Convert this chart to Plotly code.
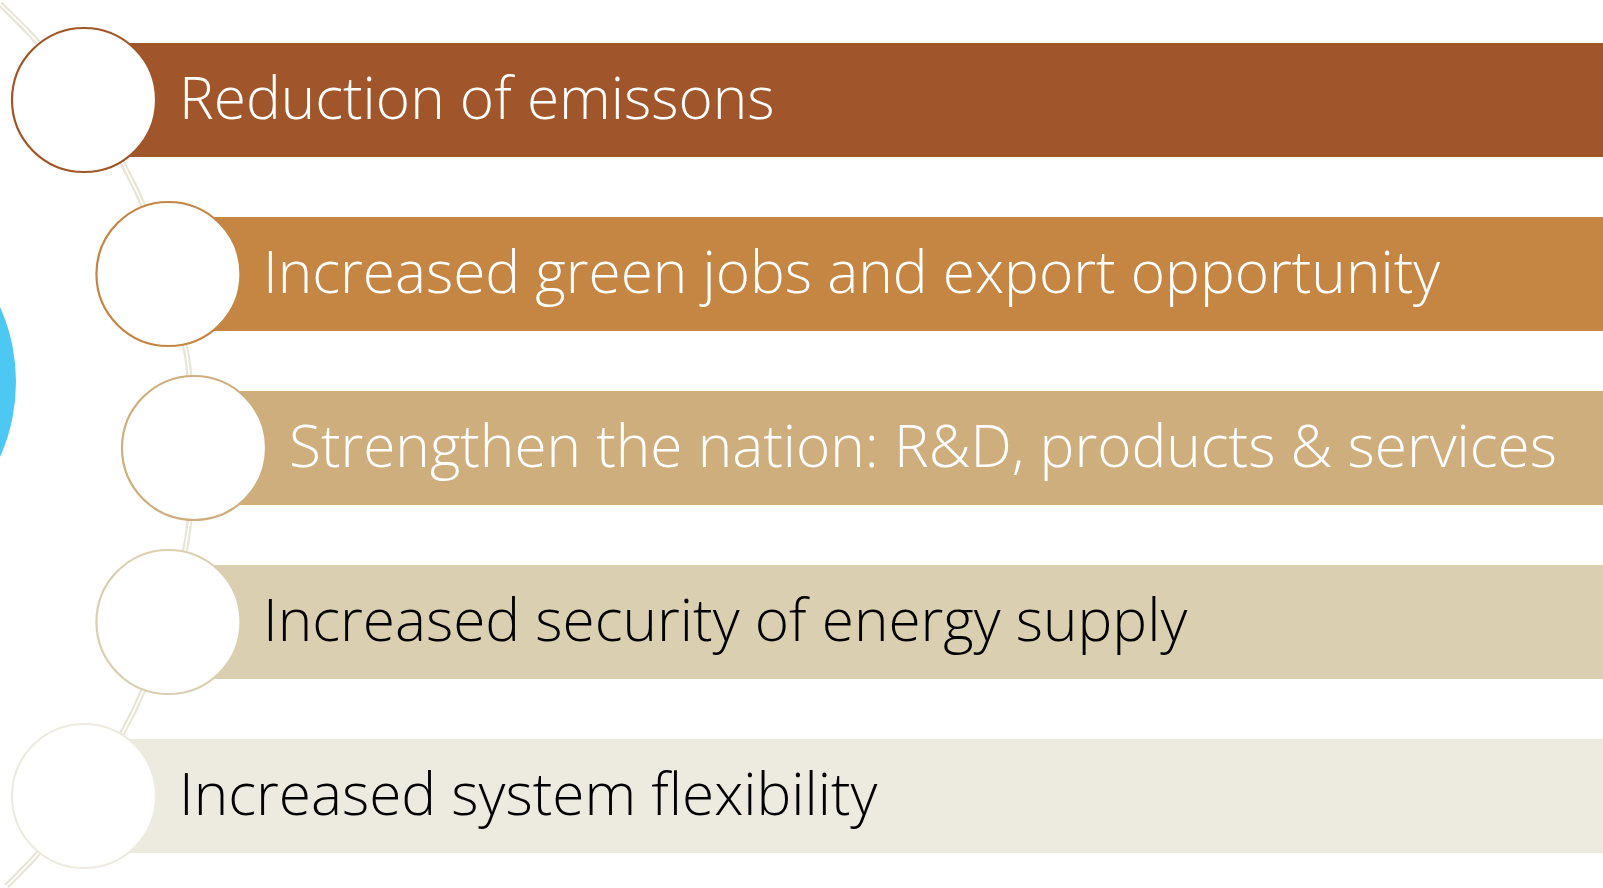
import numpy as np
import plotly.graph_objects as go

# ---- data ----
labels = [
    "Reduction of emissons",
    "Increased green jobs and export opportunity",
    "Strengthen the nation: R&D, products & services",
    "Increased security of energy supply",
    "Increased system flexibility",
]
bar_colors = ["#A0562A", "#C58543", "#CFAE7E", "#DBCFB1", "#EDEADF"]
text_colors = ["#FFFFFF", "#FFFFFF", "#FFFFFF", "#000000", "#000000"]

W, H = 1603, 888
# geometry of the SmartArt layout
arc_cx, arc_cy, arc_R = -411.5, 448.0, 605.5
row_y0, row_step = 100.0, 174.0
circ_r = 72.0
bar_h = 114.0

fig = go.Figure()

# arc (double line)
ys = np.linspace(4, 886, 300)
xs = arc_cx + np.sqrt(arc_R**2 - (ys - arc_cy) ** 2)
fig.add_trace(go.Scatter(x=xs, y=ys, mode="lines", line=dict(color="#E8E5D7", width=6),
                         hoverinfo="skip", showlegend=False))
fig.add_trace(go.Scatter(x=xs, y=ys, mode="lines", line=dict(color="#FFFFFF", width=1.6),
                         hoverinfo="skip", showlegend=False))

shapes = []
# blue circle on left
shapes.append(dict(type="circle", xref="x", yref="y", x0=-168 - 184, x1=-168 + 184,
                   y0=382 - 184, y1=382 + 184, fillcolor="#4CC8F2", line=dict(width=0),
                   layer="below"))
annotations = []
for i, lab in enumerate(labels):
    cy = row_y0 + i * row_step
    cx = arc_cx + np.sqrt(arc_R**2 - (cy - arc_cy) ** 2)
    shapes.append(dict(type="rect", xref="x", yref="y", x0=cx, x1=W + 10,
                       y0=cy - bar_h / 2, y1=cy + bar_h / 2,
                       fillcolor=bar_colors[i], line=dict(width=0), layer="above"))
    shapes.append(dict(type="circle", xref="x", yref="y", x0=cx - circ_r, x1=cx + circ_r,
                       y0=cy - circ_r, y1=cy + circ_r, fillcolor="#FFFFFF",
                       line=dict(color=bar_colors[i], width=2.2), layer="above"))
    annotations.append(dict(x=cx + circ_r + 21, y=cy, xref="x", yref="y", text=lab,
                            showarrow=False, xanchor="left", yanchor="middle", yshift=4,
                            font=dict(family="Open Sans", size=58.5, color=text_colors[i], weight=300)))

fig.update_layout(
    width=W, height=H, margin=dict(l=0, r=0, t=0, b=0),
    paper_bgcolor="#FFFFFF", plot_bgcolor="#FFFFFF",
    xaxis=dict(range=[0, W], visible=False, fixedrange=True),
    yaxis=dict(range=[H, 0], visible=False, fixedrange=True),
    shapes=shapes, annotations=annotations, showlegend=False,
)
fig.write_html("out.html", config={"displayModeBar": False},
               post_script="document.body.style.margin='0px';document.body.style.overflow='hidden';")
